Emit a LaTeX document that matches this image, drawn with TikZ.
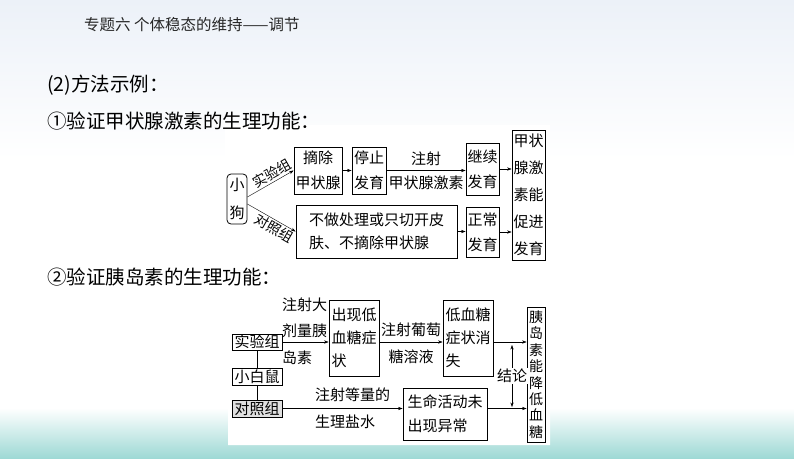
\documentclass[tikz,border=0pt]{standalone}
\usepackage{fontspec}
\setmainfont{Noto Sans CJK SC}
\usetikzlibrary{arrows.meta}
\definecolor{bgtop}{RGB}{236,241,248}
\definecolor{bgteal}{RGB}{158,217,213}

\begin{document}
\begin{tikzpicture}[x=1pt,y=-1pt,>={Stealth[length=4.5pt,width=3.2pt]},
    box/.style={draw,line width=.8pt,inner sep=0pt,align=center,font=\fontsize{15}{#1}\selectfont},
    box/.default=23,
    lab/.style={inner sep=0pt,align=left,font=\fontsize{15}{#1}\selectfont},
    lab/.default=23,
    head/.style={anchor=west,inner sep=0pt,font=\fontsize{19.5}{22}\selectfont}]
        % background
        \useasboundingbox (0,0) rectangle (794,458);
        \fill[white] (0,0) rectangle (794,458);
        \shade[top color=bgtop,bottom color=white] (0,0) rectangle (794,160);
        \shade[top color=white,bottom color=bgteal] (0,408) rectangle (794,458);
        \fill[white] (225,125) rectangle (550,266) (228,292) rectangle (550,445);
        % headings
        \node[anchor=west,inner sep=0pt,text=black!85,font=\fontsize{15.5}{18}\selectfont] (title) at (84,25) {专题六\ 个体稳态的维持——调节};
        \node[head] (h2) at (47,85) {(2)方法示例：};
        \node[head] (h21) at (47,121) {①验证甲状腺激素的生理功能：};
        \node[head] (h22) at (47,277) {②验证胰岛素的生理功能：};

        % dog experiment
        \node[box=28,rounded corners=4pt,minimum width=20pt,minimum height=50pt] (dog) at (237,199) {小\\狗};
        \node[box=25,minimum width=48pt,minimum height=47pt] (zc) at (318,170.5) {摘除\\甲状腺};
        \node[box=25,minimum width=34pt,minimum height=47pt] (tz) at (369,170.5) {停止\\发育};
        \node[box=25,minimum width=33pt,minimum height=52pt] (jx) at (482.5,169) {继续\\发育};
        \node[box,minimum width=161pt,minimum height=53pt,align=left] (bz) at (376.5,231.5) {不做处理或只切开皮\\肤、不摘除甲状腺};
        \node[box=25,minimum width=33pt,minimum height=50pt] (zcfy) at (482.5,232) {正常\\发育};
        \node[box=27,minimum width=33pt,minimum height=130pt] (jz) at (528.5,195) {甲状\\腺激\\素能\\促进\\发育};
        \draw[->] ([yshift=2pt]dog.east) -- node[pos=.62,sloped,above=1.5pt,lab,font=\fontsize{14}{16}\selectfont] {实验组} (zc.west);
        \draw[->] ([yshift=-5pt]dog.east) -- node[pos=.64,sloped,below=1.5pt,lab,font=\fontsize{14}{16}\selectfont] {对照组} (bz.west);
        \draw[->] (zc.east) -- (tz.west);
        \draw[->] (tz.east) -- node[above=5pt,lab] {注射} node[below=5pt,lab] {甲状腺激素} (tz.east -| jx.west);
        \foreach \a in {jx,zcfy} \draw[->] (\a.east) -- (\a.east -| jz.west);
        \draw[->] (bz.east) -- (bz.east -| zcfy.west);

        % mouse experiment
        \node[box,minimum width=50pt,minimum height=16pt] (sy) at (257,342) {实验组};
        \node[box,minimum width=50pt,minimum height=17pt] (xbs) at (257,376.5) {小白鼠};
        \node[box,minimum width=50pt,minimum height=17pt,fill=black!12] (dz) at (257,408.5) {对照组};
        \node[box,minimum width=50pt,minimum height=76pt,align=left] (dx) at (354,338) {出现低\\血糖症\\状};
        \node[box,minimum width=50pt,minimum height=76pt,align=left] (xs) at (468,338) {低血糖\\症状消\\失};
        \node[box=24,minimum width=84pt,minimum height=52pt,align=left] (sm) at (445,414) {生命活动未\\出现异常};
        \node[box,font=\fontsize{14}{16.4}\selectfont,minimum width=18pt,minimum height=135pt] (yd) at (536,374.5) {胰\\岛\\素\\能\\降\\低\\血\\糖};
        \draw (sy.south) -- (xbs.north) (xbs.south) -- (dz.north);
        \draw[->] (sy.east) -- (sy.east -| dx.west);
        \node[lab=26.5,anchor=west] (zsd) at (282,331) {注射大\\剂量胰\\岛素};
        \draw[->] (dx.east |- sy.east) -- node[above=5pt,lab] {注射葡萄} node[below=8pt,lab] {糖溶液} (sy.east -| xs.west);
        \draw[->] (xs.east |- sy.east) -- (sy.east -| yd.west);
        \draw[->] (dz.east) -- (dz.east -| sm.west);
        \node[lab,anchor=west] (zsdl) at (315,395) {注射等量的};
        \node[lab,anchor=west] (sls) at (315,422) {生理盐水};
        \draw[->] (sm.east |- dz.east) -- (dz.east -| yd.west);
        \coordinate (jl1) at (512,345);
        \coordinate (jl2) at (512,407);
        \draw[<->] (jl1) -- node[fill=white,lab,inner sep=1pt] (jl) {结论} (jl2);
      \end{tikzpicture}
\end{document}
